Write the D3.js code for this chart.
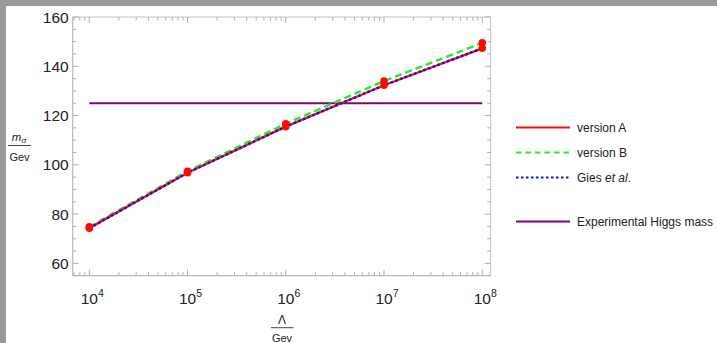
<!DOCTYPE html>
<html>
<head>
<meta charset="utf-8">
<script src="https://cdn.jsdelivr.net/npm/d3@7"></script>
<style>
  html, body { margin: 0; padding: 0; background: #fff; }
  body { font-family: "Liberation Sans", Arial, sans-serif; }
</style>
</head>
<body>
<svg id="chart" width="717" height="343"></svg>
<script>
// ------------------------------
// DONNEES
// ------------------------------
const lambdas = [1e4, 1e5, 1e6, 1e7, 1e8];
const versionA = [74.3, 96.8, 115.5, 132.3, 147.3];
const versionB = [74.8, 97.4, 116.7, 134.0, 149.5];
const gies = [74.3, 96.8, 115.5, 132.3, 147.3];
const higgsMass = 125;
const yTicks = [60, 80, 100, 120, 140, 160];
const xTicks = [1e4, 1e5, 1e6, 1e7, 1e8];
const legendLabels = ["version A", "version B", "Gies", "Experimental Higgs mass"];

// ------------------------------
// CADRE / ECHELLES
// ------------------------------
const svg = d3.select("#chart");
const pLeft = 72.7, pRight = 490.7, pTop = 17, pBottom = 275.7;

const x = d3.scaleLog().domain([Math.pow(10, 3.831), Math.pow(10, 8.086)]).range([pLeft, pRight]);
const y = d3.scaleLinear().domain([55, 160]).range([pBottom, pTop]);

// fond gris en haut et a gauche
svg.append("rect").attr("x", 0).attr("y", 0).attr("width", 717).attr("height", 6).attr("fill", "#9a9a9a");
svg.append("rect").attr("x", 0).attr("y", 0).attr("width", 6).attr("height", 343).attr("fill", "#9a9a9a");

// ticks mineurs
const yMinor = d3.range(55, 161, 5).filter(v => !yTicks.includes(v));
const xMinor = [];
[1e3, 1e4, 1e5, 1e6, 1e7, 1e8].forEach(d => {
  for (let k = 2; k <= 9; k++) {
    const v = d * k;
    if (v > x.domain()[0] && v < x.domain()[1]) xMinor.push(v);
  }
});

const frame = svg.append("g");
// cadre haut/droite (plus clair)
frame.append("line").attr("x1", pLeft).attr("x2", pRight).attr("y1", pTop).attr("y2", pTop).attr("stroke", "#c4c4c4");
frame.append("line").attr("x1", pRight).attr("x2", pRight).attr("y1", pTop).attr("y2", pBottom).attr("stroke", "#c4c4c4");

// ticks
const tickCol = "#b0b0b0";
yTicks.forEach(v => {
  frame.append("line").attr("x1", pLeft).attr("x2", pLeft + 6).attr("y1", y(v)).attr("y2", y(v)).attr("stroke", tickCol);
  frame.append("line").attr("x1", pRight).attr("x2", pRight - 6).attr("y1", y(v)).attr("y2", y(v)).attr("stroke", tickCol);
});
yMinor.forEach(v => {
  frame.append("line").attr("x1", pLeft).attr("x2", pLeft + 3.5).attr("y1", y(v)).attr("y2", y(v)).attr("stroke", tickCol);
  frame.append("line").attr("x1", pRight).attr("x2", pRight - 3.5).attr("y1", y(v)).attr("y2", y(v)).attr("stroke", tickCol);
});
xTicks.forEach(v => {
  frame.append("line").attr("x1", x(v)).attr("x2", x(v)).attr("y1", pBottom).attr("y2", pBottom - 6).attr("stroke", tickCol);
  frame.append("line").attr("x1", x(v)).attr("x2", x(v)).attr("y1", pTop).attr("y2", pTop + 6).attr("stroke", tickCol);
});
xMinor.forEach(v => {
  frame.append("line").attr("x1", x(v)).attr("x2", x(v)).attr("y1", pBottom).attr("y2", pBottom - 3.5).attr("stroke", tickCol);
  frame.append("line").attr("x1", x(v)).attr("x2", x(v)).attr("y1", pTop).attr("y2", pTop + 3.5).attr("stroke", tickCol);
});

// axes gauche / bas
frame.append("line").attr("x1", pLeft).attr("x2", pLeft).attr("y1", pTop).attr("y2", pBottom).attr("stroke", "#b8b8b8").attr("stroke-width", 1.2);
frame.append("line").attr("x1", pLeft).attr("x2", pRight).attr("y1", pBottom).attr("y2", pBottom).attr("stroke", "#b8b8b8").attr("stroke-width", 1.2);

// labels des ticks
yTicks.forEach(v => {
  svg.append("text").attr("x", pLeft - 4).attr("y", y(v) + 5.5)
    .attr("text-anchor", "end").attr("font-size", 15.5).attr("fill", "#222").text(v);
});
xTicks.forEach(v => {
  const t = svg.append("text").attr("x", x(v) + 3).attr("y", 304)
    .attr("text-anchor", "middle").attr("font-size", 15.5).attr("fill", "#222");
  t.append("tspan").text("10");
  t.append("tspan").attr("dy", -7).attr("font-size", 10.5).text(Math.round(Math.log10(v)));
});

// titres des axes (fractions)
const yl = svg.append("g");
yl.append("text").attr("x", 19).attr("y", 141).attr("text-anchor", "middle").attr("font-size", 11.5).attr("fill", "#222")
  .call(t => {
    t.append("tspan").attr("font-style", "italic").text("m");
    t.append("tspan").attr("font-style", "italic").attr("font-size", 8).attr("dy", 2).text("σ");
  });
yl.append("line").attr("x1", 8).attr("x2", 31).attr("y1", 145.5).attr("y2", 145.5).attr("stroke", "#333").attr("stroke-width", 0.9);
yl.append("text").attr("x", 19.5).attr("y", 161).attr("text-anchor", "middle").attr("font-size", 11).attr("fill", "#222").text("Gev");

const xl = svg.append("g");
xl.append("text").attr("x", 282).attr("y", 324).attr("text-anchor", "middle").attr("font-size", 12).attr("fill", "#222").text("Λ");
xl.append("line").attr("x1", 271).attr("x2", 293.5).attr("y1", 327.7).attr("y2", 327.7).attr("stroke", "#333").attr("stroke-width", 0.9);
xl.append("text").attr("x", 282).attr("y", 342).attr("text-anchor", "middle").attr("font-size", 11).attr("fill", "#222").text("Gev");

// ------------------------------
// COURBES
// ------------------------------
const line = d3.line().x(d => x(d[0])).y(d => y(d[1]));
const zip = vals => lambdas.map((l, i) => [l, vals[i]]);

// masse de Higgs
svg.append("line").attr("x1", x(lambdas[0])).attr("x2", x(lambdas[lambdas.length - 1]))
  .attr("y1", y(higgsMass)).attr("y2", y(higgsMass)).attr("stroke", "#800080").attr("stroke-width", 2.2);

svg.append("path").datum(zip(versionB)).attr("d", line).attr("fill", "none")
  .attr("stroke", "#22ee22").attr("stroke-width", 2.4).attr("stroke-dasharray", "7,4");
svg.append("path").datum(zip(versionA)).attr("d", line).attr("fill", "none")
  .attr("stroke", "#ff1010").attr("stroke-width", 2.4);
svg.append("path").datum(zip(gies)).attr("d", line).attr("fill", "none")
  .attr("stroke", "#1010ee").attr("stroke-width", 2.4).attr("stroke-dasharray", "2.5,2.5");

// points
[versionA, versionB].forEach(vals => {
  svg.selectAll(null).data(zip(vals)).enter().append("circle")
    .attr("cx", d => x(d[0])).attr("cy", d => y(d[1])).attr("r", 3.8).attr("fill", "#ff0a0a");
});

// ------------------------------
// LEGENDE
// ------------------------------
const legendStyles = [
  { stroke: "#ff1010", dash: null, y: 127.5 },
  { stroke: "#22ee22", dash: "5.5,4", y: 152.5 },
  { stroke: "#1010ee", dash: "2.5,2.5", y: 177.5 },
  { stroke: "#800080", dash: null, y: 221.5 }
];
legendLabels.forEach((lab, i) => {
  const s = legendStyles[i];
  svg.append("line").attr("x1", 516).attr("x2", 570).attr("y1", s.y).attr("y2", s.y)
    .attr("stroke", s.stroke).attr("stroke-width", 2).attr("stroke-dasharray", s.dash);
  const t = svg.append("text").attr("x", 577).attr("y", s.y + 4.3).attr("font-size", 12).attr("fill", "#222");
  if (lab === "Gies") {
    t.append("tspan").text("Gies ");
    t.append("tspan").attr("font-style", "italic").text("et al");
    t.append("tspan").text(".");
  } else {
    t.text(lab);
  }
});
</script>
</body>
</html>
